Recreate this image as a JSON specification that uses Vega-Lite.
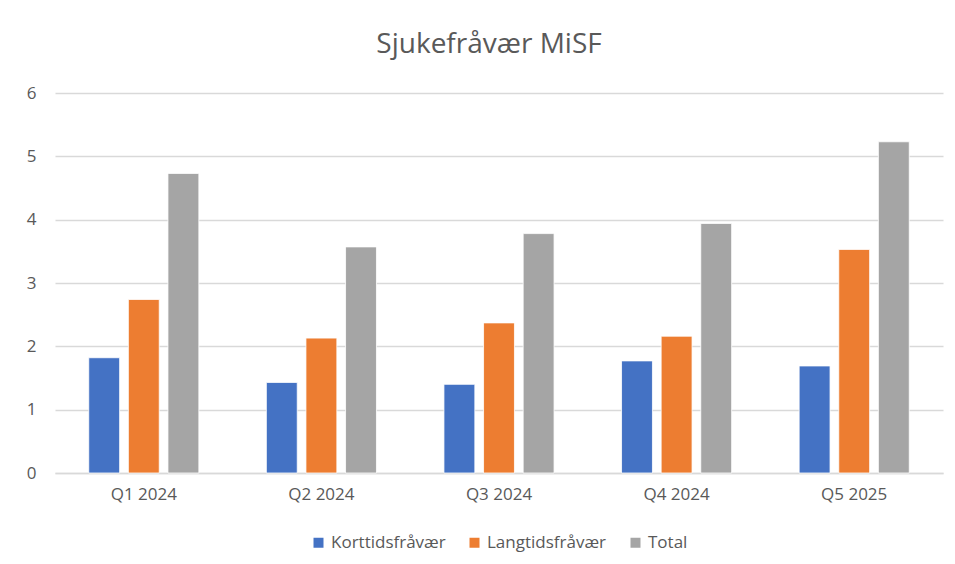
{
  "$schema": "https://vega.github.io/schema/vega-lite/v6.json",
  "width": 888,
  "height": 380,
  "autosize": {"type": "none"},
  "padding": {"left": 55, "top": 93, "right": 12, "bottom": 91},
  "background": "white",
  "title": {
    "text": "Sjukefråvær MiSF",
    "fontSize": 28,
    "font": "Open Sans",
    "fontWeight": "normal",
    "color": "#595959",
    "offset": 25,
    "dx": -10
  },
  "data": {
    "values": [
      {"kvartal": "Q1 2024", "serie": "Korttidsfråvær", "verdi": 1.82},
      {"kvartal": "Q1 2024", "serie": "Langtidsfråvær", "verdi": 2.74},
      {"kvartal": "Q1 2024", "serie": "Total", "verdi": 4.73},
      {"kvartal": "Q2 2024", "serie": "Korttidsfråvær", "verdi": 1.43},
      {"kvartal": "Q2 2024", "serie": "Langtidsfråvær", "verdi": 2.13},
      {"kvartal": "Q2 2024", "serie": "Total", "verdi": 3.57},
      {"kvartal": "Q3 2024", "serie": "Korttidsfråvær", "verdi": 1.40},
      {"kvartal": "Q3 2024", "serie": "Langtidsfråvær", "verdi": 2.37},
      {"kvartal": "Q3 2024", "serie": "Total", "verdi": 3.78},
      {"kvartal": "Q4 2024", "serie": "Korttidsfråvær", "verdi": 1.77},
      {"kvartal": "Q4 2024", "serie": "Langtidsfråvær", "verdi": 2.16},
      {"kvartal": "Q4 2024", "serie": "Total", "verdi": 3.94},
      {"kvartal": "Q5 2025", "serie": "Korttidsfråvær", "verdi": 1.69},
      {"kvartal": "Q5 2025", "serie": "Langtidsfråvær", "verdi": 3.53},
      {"kvartal": "Q5 2025", "serie": "Total", "verdi": 5.23}
    ]
  },
  "mark": {"type": "bar", "stroke": "white", "strokeWidth": 0.8},
  "encoding": {
    "x": {
      "field": "kvartal",
      "type": "nominal",
      "sort": null,
      "scale": {"paddingInner": 0.38, "paddingOuter": 0.19},
      "axis": {
        "title": null,
        "labelAngle": 0,
        "labelFontSize": 17,
        "labelFont": "Open Sans",
        "labelColor": "#595959",
        "labelPadding": 13,
        "ticks": false,
        "domain": true,
        "domainColor": "#d9d9d9",
        "domainWidth": 1.5,
        "grid": false
      }
    },
    "xOffset": {
      "field": "serie",
      "type": "nominal",
      "scale": {"paddingInner": 0.22, "paddingOuter": 0}
    },
    "y": {
      "field": "verdi",
      "type": "quantitative",
      "scale": {"domain": [0, 6], "nice": false},
      "axis": {
        "title": null,
        "values": [0, 1, 2, 3, 4, 5, 6],
        "format": "d",
        "labelFontSize": 17,
        "labelFont": "Open Sans",
        "labelColor": "#595959",
        "labelPadding": 19,
        "ticks": false,
        "domain": false,
        "grid": true,
        "gridColor": "#d9d9d9",
        "gridWidth": 1.3
      }
    },
    "color": {
      "field": "serie",
      "type": "nominal",
      "scale": {
        "domain": ["Korttidsfråvær", "Langtidsfråvær", "Total"],
        "range": ["#4472C4", "#ED7D31", "#A5A5A5"]
      },
      "legend": {
        "title": null,
        "orient": "bottom",
        "direction": "horizontal",
        "symbolType": "square",
        "symbolSize": 100,
        "symbolStrokeWidth": 0,
        "labelFontSize": 17,
        "labelFont": "Open Sans",
        "labelColor": "#595959",
        "columnPadding": 20,
        "labelOffset": 4,
        "offset": 32
      }
    }
  },
  "config": {
    "view": {"stroke": null},
    "legend": {"layout": {"bottom": {"anchor": "middle"}}}
  }
}
